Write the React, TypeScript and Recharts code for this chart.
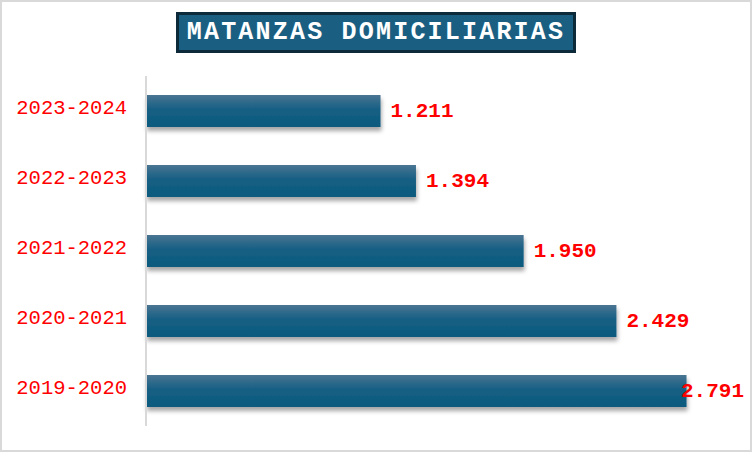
import React from "react";
import { BarChart, Bar, XAxis, YAxis, LabelList } from "recharts";

const seasons = ["2023-2024", "2022-2023", "2021-2022", "2020-2021", "2019-2020"];
const slaughters = [1211, 1394, 1950, 2429, 2791];

const data = seasons.map((season, i) => ({ season, value: slaughters[i] }));

const fmt = (v: number) => String(v).replace(/\B(?=(\d{3})+(?!\d))/g, ".");

const mono = "'Liberation Mono', 'DejaVu Sans Mono', monospace";

function ValueLabel(props: any) {
  const { x, y, width, height, value } = props;
  const text = fmt(value);
  const textW = text.length * 12.6;
  const lx = Math.min(x + width + 10, 744 - textW);
  return (
    <text
      x={lx}
      y={y + height / 2}
      dominantBaseline="middle"
      fill="#ff0000"
      fontFamily={mono}
      fontWeight="bold"
      fontSize={21}
    >
      {text}
    </text>
  );
}

function SeasonTick(props: any) {
  const { x, y, payload } = props;
  return (
    <text
      x={x}
      y={y - 2}
      textAnchor="end"
      dominantBaseline="middle"
      fill="#ff0000"
      fontFamily={mono}
      fontSize={20.5}
    >
      {payload.value}
    </text>
  );
}

export default function App() {
  return (
    <div
      style={{
        position: "absolute",
        left: 0,
        top: 0,
        width: 752,
        height: 452,
        boxSizing: "border-box",
        border: "2px solid #d9d9d9",
        background: "#fff",
      }}
    >
      <div
        style={{
          position: "absolute",
          left: 174,
          top: 10,
          width: 400,
          height: 41,
          boxSizing: "border-box",
          border: "3px solid #0d2a3a",
          background: "#1a5f82",
          color: "#fff",
          fontFamily: mono,
          fontWeight: "bold",
          fontSize: 25,
          letterSpacing: 2.2,
          lineHeight: "35px",
          textAlign: "center",
          whiteSpace: "nowrap",
        }}
      >
        MATANZAS DOMICILIARIAS
      </div>
      <div style={{ position: "absolute", left: -2, top: -2 }}>
        <BarChart
          width={752}
          height={452}
          data={data}
          layout="vertical"
          margin={{ top: 76, right: 25, bottom: 26, left: 0 }}
          barCategoryGap={0}
        >
          <defs>
            <linearGradient id="barFill" x1="0" y1="0" x2="0" y2="1">
              <stop offset="0%" stopColor="#4a7592" />
              <stop offset="45%" stopColor="#165f84" />
              <stop offset="100%" stopColor="#0a5a7e" />
            </linearGradient>
            <filter id="barShadow" x="-5%" y="-20%" width="110%" height="160%">
              <feDropShadow dx="1" dy="4" stdDeviation="2" floodColor="#000" floodOpacity="0.35" />
            </filter>
          </defs>
          <XAxis type="number" domain={[0, 3000]} hide />
          <YAxis
            type="category"
            dataKey="season"
            width={146}
            tickLine={false}
            tickSize={0}
            tickMargin={19}
            axisLine={{ stroke: "#d9d9d9", strokeWidth: 2 }}
            tick={<SeasonTick />}
          />
          <Bar
            dataKey="value"
            barSize={32}
            fill="url(#barFill)"
            filter="url(#barShadow)"
            isAnimationActive={false}
          >
            <LabelList dataKey="value" content={<ValueLabel />} />
          </Bar>
        </BarChart>
      </div>
    </div>
  );
}
